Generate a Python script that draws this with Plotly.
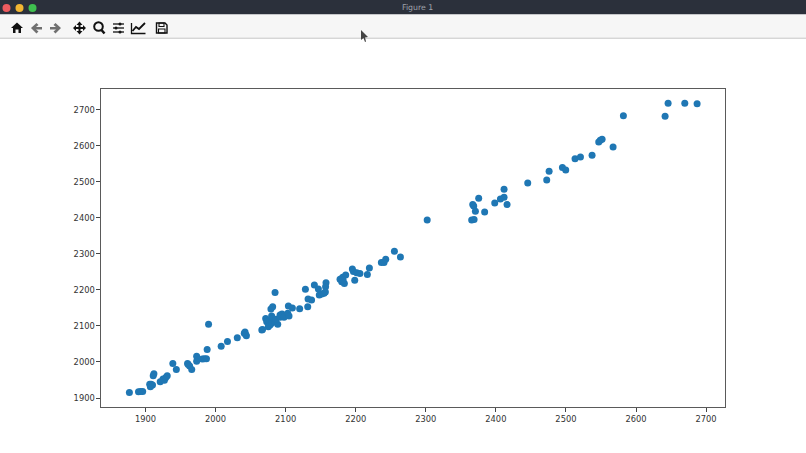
import plotly.graph_objects as go

W, H = 806, 453
L, R, T, B = 101, 725, 89, 407

x_values = [1877,1890,1893,1896,1907,1908,1906,1910,1907,1911,1912,1921,1925,1927,1929,1931,1939,1944,
 1960,1961,1963,1966,1973,1973,1981,1984,1987,1988,1990,2008,2017,2031,2042,2041,2044,2043,2066,2067,
 2071.5,2076.3,2073,2080,2081.5,2077.7,2075.3,2080,2084.9,2088.7,2086.3,2092,2094.8,2092,2097.7,2103,2104.8,
 2103.9,2109.6,2079,2081.5,2084.9,2120,2131.5,2128.2,2132,2137,2141,2146.7,2157.6,2157,2148,2151.5,2154.8,2156.7,
 2177.6,2181.4,2185.7,2180,2183.8,2182,2195.2,2196.7,2201.4,2206,2198.6,2216.6,2219.5,2236.6,2240.4,2242.8,2255.2,2263.8,
 2302,2365.5,2368.9,2367,2368.4,2370.8,2375.5,2384,2398.4,2406.5,2411.7,2411.7,2416,2445.5,2472.6,2476,2495,2499.7,
 2513,2520.7,2537.3,2546.8,2549,2551.6,2567.3,2582,2641.5,2645.8,2669.6,2687.2]
y_values = [1915,1917,1918,1918,1934,1938,1938,1936,1931,1962,1967,1945,1953,1949,1957,1962,1996,1979,
 1996,1993,1989,1979,2016,2002,2008,2009,2009,2035,2105,2044,2057,2067,2083,2080,2073,2076,2089,2090,
 2120.4,2114.8,2112,2128,2121,2103,2098,2107.4,2112,2104.6,2118.5,2130.6,2133.3,2124,2124,2135,2127.8,
 2155.6,2150,2147,2153.7,2192.6,2148,2153.7,2201.9,2175,2172,2214,2202.8,2220,2209,2186,2189,2190.7,2194.5,
 2229.7,2235,2241.7,2223,2217.6,2227.8,2258.4,2251,2248,2246,2226.9,2242.6,2261,2276,2276,2285,2307.4,2291.7,
 2394.5,2394.5,2395.4,2437,2433,2418.5,2454.6,2416.7,2441.7,2452.8,2457.4,2479.6,2437,2497,2505.6,2529.7,2539.8,2533.4,
 2564,2569.5,2574,2611,2615.8,2618.6,2597,2683.4,2682.4,2718.6,2718.6,2716.7]
x_ticks = [1900,2000,2100,2200,2300,2400,2500,2600,2700]
y_ticks = [1900,2000,2100,2200,2300,2400,2500,2600,2700]
x_range = [1836.5, 2727]
y_range = [1875, 2758]

def fx(p): return (p - L) / (R - L)
def fy(p): return (B - p) / (B - T)

def rect(x0, y0, x1, y1, color):
    return dict(type="rect", xref="paper", yref="paper", x0=fx(x0), x1=fx(x1), y0=fy(y0), y1=fy(y1),
                fillcolor=color, line_width=0, layer="below")

def path(points, fill=None, line=None, width=1.5, close=True):
    d = "M" + " L".join(f"{fx(a):.5f},{fy(b):.5f}" for a, b in points) + (" Z" if close else "")
    return dict(type="path", xref="paper", yref="paper", path=d, fillcolor=fill if fill else "rgba(0,0,0,0)",
                line=dict(color=line if line else "rgba(0,0,0,0)", width=width if line else 0))

def circle(cx, cy, r, fill=None, line=None, width=1.5):
    return dict(type="circle", xref="paper", yref="paper", x0=fx(cx-r), x1=fx(cx+r), y0=fy(cy+r), y1=fy(cy-r),
                fillcolor=fill if fill else "rgba(0,0,0,0)",
                line=dict(color=line if line else "rgba(0,0,0,0)", width=width if line else 0))

K, G = "#111111", "#707070"
shapes = [
    rect(0, 0, W, 14.5, "#2b303b"),
    rect(0, 14.5, W, 37.5, "#f6f6f6"),
    rect(0, 37.5, W, 39, "#d6d6d6"),
    circle(6.5, 8, 4, "#ee5b5f"), circle(19.5, 8, 4, "#f2b632"), circle(32.5, 8, 4, "#3fc04f"),
    # home
    path([(11,28),(17,22.5),(23,28),(21,28),(21,33),(18.5,33),(18.5,29.5),(15.5,29.5),(15.5,33),(13,33),(13,28)], K),
    # back
    path([(31,28),(36.5,23),(38.5,25),(36,27),(42,27),(42,29.5),(36,29.5),(38.5,31.5),(36.5,33.5)], G),
    # forward
    path([(61,28),(55.5,23),(53.5,25),(56,27),(50,27),(50,29.5),(56,29.5),(53.5,31.5),(55.5,33.5)], G),
    # move
    path([(79.5,21.5),(82.5,25),(80.5,25),(80.5,27),(83,27),(83,25),(86,28),(83,31),(83,29),(80.5,29),(80.5,31),(82.5,31),
          (79.5,34.5),(76.5,31),(78.5,31),(78.5,29),(76,29),(76,31),(73,28),(76,25),(76,27),(78.5,27),(78.5,25),(76.5,25)], K),
    # zoom
    circle(98.5, 26.5, 4.3, None, K, 2),
    path([(101.5,30),(104.5,33.5)], None, K, 2.5, False),
    # sliders
    path([(113,24),(124,24)], None, K, 1.3, False), path([(113,28),(124,28)], None, K, 1.3, False),
    path([(113,32),(124,32)], None, K, 1.3, False),
    circle(120, 24, 1.5, K), circle(116, 28, 1.5, K), circle(120, 32, 1.5, K),
    # line chart
    path([(131.5,23),(131.5,33.5),(145.5,33.5)], None, K, 1.3, False),
    path([(132.5,31),(136,27),(139,29),(145,23)], None, K, 1.8, False),
    # save
    path([(156.5,23),(165,23),(167,25),(167,33),(156.5,33)], None, K, 1.4),
    path([(159,23),(159,26.5),(164,26.5),(164,23)], None, K, 1.1),
    path([(158.5,33),(158.5,29),(165,29),(165,33)], None, K, 1.1),
    # cursor
    path([(361,30),(361,40),(363.5,38),(365,42),(366,41.5),(365,37.5),(368,37)], "#444444"),
]

fig = go.Figure(go.Scatter(x=x_values, y=y_values, mode="markers",
                           marker=dict(color="#1f77b4", size=7, line_width=0), cliponaxis=False))

axis = dict(showgrid=False, zeroline=False, showline=True, mirror=True, linecolor="#5a5a5a", linewidth=1.2,
            ticks="outside", ticklen=3.5, tickwidth=1, tickcolor="#444444",
            tickfont=dict(family="DejaVu Sans", size=8.3, color="#333333"))
fig.update_layout(
    width=W, height=H, autosize=False, showlegend=False,
    margin=dict(l=L, r=W-R, t=T, b=H-B, pad=0),
    paper_bgcolor="white", plot_bgcolor="white",
    xaxis=dict(range=x_range, tickvals=x_ticks, ticktext=[str(v) for v in x_ticks], **axis),
    yaxis=dict(range=y_range, tickvals=y_ticks, ticktext=[str(v) for v in y_ticks], **axis),
    shapes=shapes,
    annotations=[dict(text="Figure 1", xref="paper", yref="paper", x=fx(417), y=fy(8), showarrow=False,
                      xanchor="center", yanchor="middle",
                      font=dict(family="DejaVu Sans", size=7.8, color="#a0a4ac"))],
)
fig.write_html("out.html", config=dict(displayModeBar=False),
               post_script="document.body.style.margin='0';document.documentElement.style.overflow='hidden';")
